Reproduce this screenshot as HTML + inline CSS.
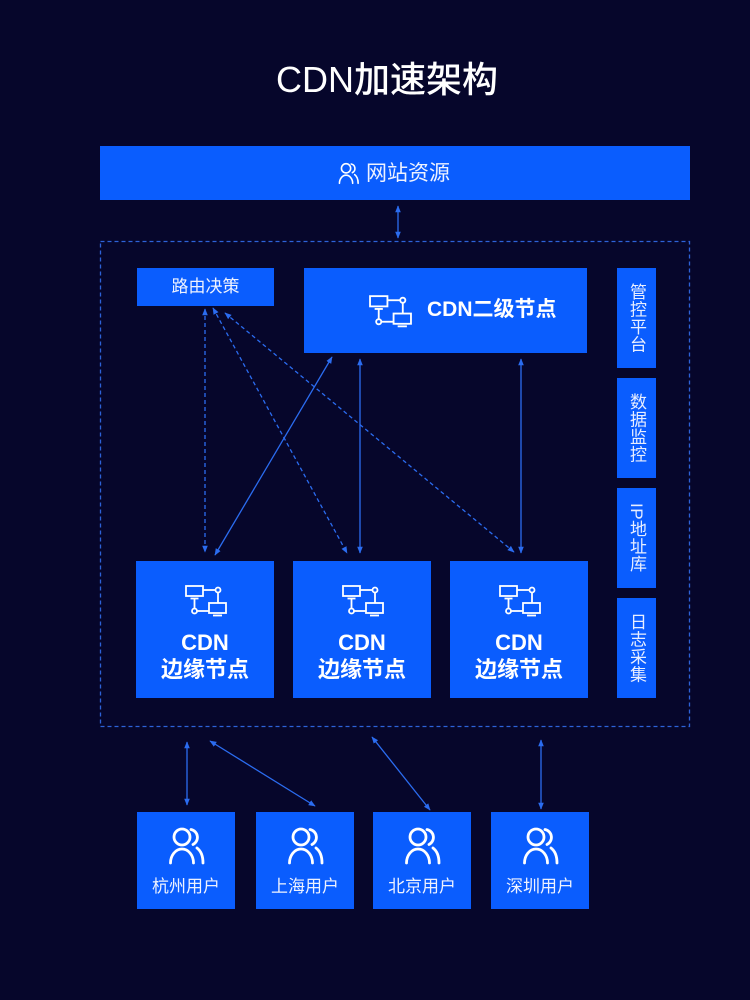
<!DOCTYPE html>
<html><head><meta charset="utf-8"><style>
html,body{margin:0;padding:0}
body{width:750px;height:1000px;background:#06062b;position:relative;overflow:hidden;font-family:"Liberation Sans","Noto Sans CJK SC",sans-serif;color:#fff}
.b{position:absolute;background:#0a5dfe}
.t{position:absolute;white-space:nowrap}
.side{position:absolute;left:617px;width:39px;height:100px;background:#0a5dfe;display:flex;align-items:center;justify-content:center}
.side span{writing-mode:vertical-rl;font-size:17px;line-height:17px;letter-spacing:0.5px;color:#e8eeff}
.edge .icon{position:absolute;left:49px;top:24px}
.edge .l1{position:absolute;left:0;width:138px;text-align:center;top:68px;font-size:22px;font-weight:bold;line-height:28px}
.edge .l2{position:absolute;left:0;width:138px;text-align:center;top:95px;font-size:22px;font-weight:bold;line-height:28px}
.user .icon{position:absolute;left:31px;top:14px}
.user .l{position:absolute;left:0;width:98px;text-align:center;top:63px;font-size:17px;line-height:24px;color:#eef2ff}
</style></head><body>
<svg width="0" height="0" style="position:absolute">
<defs>
<symbol id="net" viewBox="-1 -1 42 32">
<g fill="none" stroke="#fff" stroke-width="1.8">
<rect x="0" y="0" width="17" height="10"/>
<line x1="4.5" y1="12.5" x2="12.5" y2="12.5"/>
<line x1="8.5" y1="12.5" x2="8.5" y2="22.5"/>
<circle cx="8.5" cy="25" r="2.5"/>
<line x1="11" y1="25" x2="23" y2="25"/>
<rect x="23" y="17" width="17" height="10"/>
<line x1="27" y1="29.5" x2="36" y2="29.5"/>
<circle cx="32" cy="4" r="2.5"/>
<line x1="17" y1="4" x2="29.5" y2="4"/>
<line x1="32" y1="6.5" x2="32" y2="17"/>
</g>
</symbol>
<symbol id="usr" viewBox="0 0 40 40">
<g fill="none" stroke="#fff" stroke-width="2.8" stroke-linecap="round">
<circle cx="14" cy="11" r="8"/>
<path d="M2.5,37 A11.5,14 0 0 1 25.5,37"/>
<path d="M23,3.5 A8,8 0 0 1 25,18.5"/>
<path d="M29,22 C33,25 35,30 35,37"/>
</g>
</symbol>
<marker id="ah" viewBox="0 0 10 10" refX="9" refY="5" markerWidth="7" markerHeight="7" markerUnits="userSpaceOnUse" orient="auto-start-reverse">
<path d="M0,1 L10,5 L0,9 z" fill="#2b6cf0"/>
</marker>
</defs>
</svg>

<div class="t" style="left:187px;width:400px;text-align:center;top:56px;font-size:36px;line-height:48px;font-weight:500">CDN加速架构</div>

<div class="b" style="left:100px;top:146px;width:590px;height:54px"></div>
<svg class="t" style="left:338px;top:162px" width="23" height="23"><use href="#usr"/></svg>
<div class="t" style="left:366px;top:160px;font-size:21px;line-height:28px;color:#eef2ff">网站资源</div>

<svg class="t" style="left:0;top:0" width="750" height="1000">
<g stroke="#2b6cf0" stroke-width="1.3" fill="none">
<rect x="100.5" y="241.5" width="589" height="485" stroke-dasharray="4 3" stroke="#2d62d8"/>
<line x1="398" y1="206" x2="398" y2="238" marker-start="url(#ah)" marker-end="url(#ah)"/>
<line x1="205" y1="309" x2="205" y2="552" stroke-dasharray="4 3" marker-start="url(#ah)" marker-end="url(#ah)"/>
<line x1="213" y1="308" x2="347" y2="553" stroke-dasharray="4 3" marker-start="url(#ah)" marker-end="url(#ah)"/>
<line x1="225" y1="313" x2="514" y2="552" stroke-dasharray="4 3" marker-start="url(#ah)" marker-end="url(#ah)"/>
<line x1="332" y1="357" x2="215" y2="555" marker-start="url(#ah)" marker-end="url(#ah)"/>
<line x1="360" y1="359" x2="360" y2="553" marker-start="url(#ah)" marker-end="url(#ah)"/>
<line x1="521" y1="359" x2="521" y2="553" marker-start="url(#ah)" marker-end="url(#ah)"/>
<line x1="187" y1="742" x2="187" y2="805" marker-start="url(#ah)" marker-end="url(#ah)"/>
<line x1="210" y1="741" x2="315" y2="806" marker-start="url(#ah)" marker-end="url(#ah)"/>
<line x1="372" y1="737" x2="430" y2="810" marker-start="url(#ah)" marker-end="url(#ah)"/>
<line x1="541" y1="740" x2="541" y2="809" marker-start="url(#ah)" marker-end="url(#ah)"/>
</g>
</svg>

<div class="b" style="left:137px;top:268px;width:137px;height:38px"></div>
<div class="t" style="left:137px;width:137px;text-align:center;top:275px;font-size:17px;line-height:24px;color:#eef2ff">路由决策</div>

<div class="b" style="left:304px;top:268px;width:283px;height:85px"></div>
<svg class="t" style="left:369px;top:295px" width="43" height="33"><use href="#net"/></svg>
<div class="t" style="left:427px;top:296px;font-size:21px;line-height:28px;font-weight:bold">CDN二级节点</div>

<div class="side" style="top:268px"><span>管控平台</span></div>
<div class="side" style="top:378px"><span>数据监控</span></div>
<div class="side" style="top:488px"><span>IP地址库</span></div>
<div class="side" style="top:598px"><span>日志采集</span></div>

<div class="b edge" style="left:136px;top:561px;width:138px;height:137px">
<svg class="icon" width="42" height="32"><use href="#net"/></svg>
<div class="l1">CDN</div><div class="l2">边缘节点</div></div>
<div class="b edge" style="left:293px;top:561px;width:138px;height:137px">
<svg class="icon" width="42" height="32"><use href="#net"/></svg>
<div class="l1">CDN</div><div class="l2">边缘节点</div></div>
<div class="b edge" style="left:450px;top:561px;width:138px;height:137px">
<svg class="icon" width="42" height="32"><use href="#net"/></svg>
<div class="l1">CDN</div><div class="l2">边缘节点</div></div>

<div class="b user" style="left:137px;top:812px;width:98px;height:97px">
<svg class="icon" width="40" height="40"><use href="#usr"/></svg><div class="l">杭州用户</div></div>
<div class="b user" style="left:256px;top:812px;width:98px;height:97px">
<svg class="icon" width="40" height="40"><use href="#usr"/></svg><div class="l">上海用户</div></div>
<div class="b user" style="left:373px;top:812px;width:98px;height:97px">
<svg class="icon" width="40" height="40"><use href="#usr"/></svg><div class="l">北京用户</div></div>
<div class="b user" style="left:491px;top:812px;width:98px;height:97px">
<svg class="icon" width="40" height="40"><use href="#usr"/></svg><div class="l">深圳用户</div></div>
</body></html>
